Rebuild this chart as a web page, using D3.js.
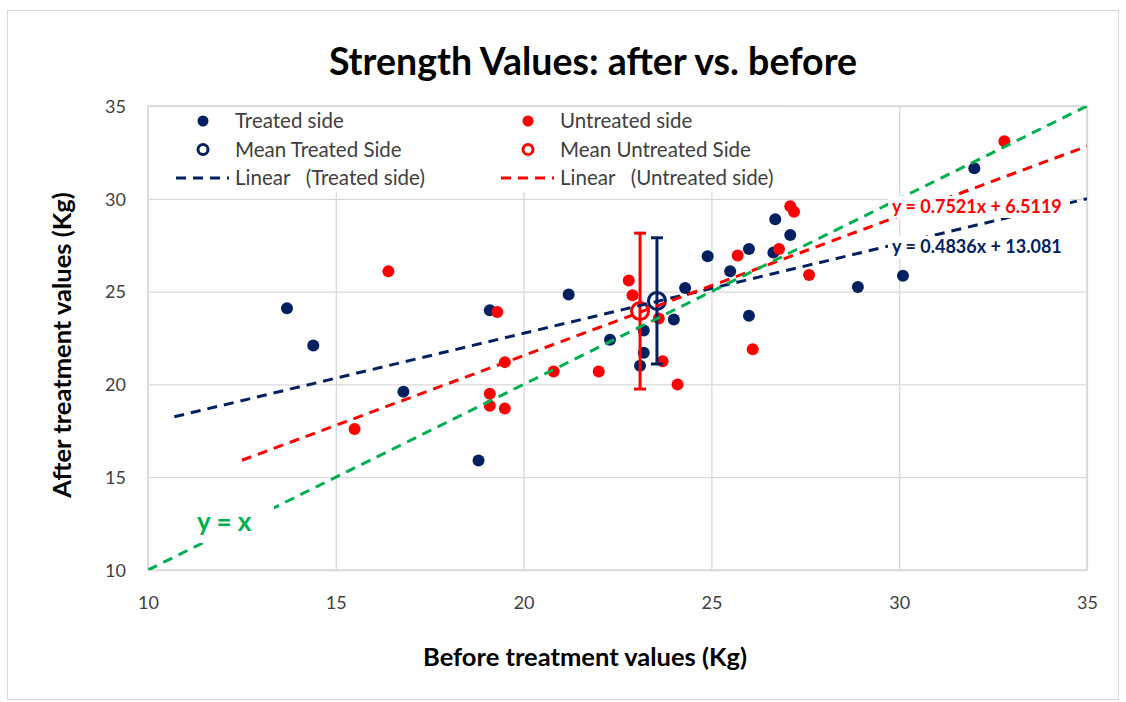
<!DOCTYPE html>
<html>
<head>
<meta charset="utf-8">
<script src="https://cdn.jsdelivr.net/npm/d3@7"></script>
<style>
  body { margin: 0; background: #fff; }
  svg text { font-family: Lato, "Open Sans", sans-serif; }
</style>
</head>
<body>
<svg id="chart" width="1126" height="702"></svg>
<script>
// data
const treatedX = [13.7, 14.4, 16.8, 18.8, 19.1, 21.2, 22.3, 23.1, 23.2, 23.2, 24.0, 24.3, 24.9, 25.5, 26.0, 26.0, 26.65, 26.7, 27.1, 28.9, 30.1, 32.0];
const treatedY = [24.1, 22.1, 19.6, 15.9, 24.0, 24.85, 22.4, 21.0, 21.7, 22.9, 23.5, 25.2, 26.9, 26.1, 27.3, 23.7, 27.1, 28.9, 28.05, 25.25, 25.85, 31.65];
const untreatedX = [15.5, 16.4, 19.1, 19.1, 19.3, 19.5, 19.5, 20.8, 22.0, 22.8, 22.9, 23.6, 23.7, 24.1, 25.7, 26.1, 26.8, 27.1, 27.2, 27.6, 32.8];
const untreatedY = [17.6, 26.1, 19.5, 18.85, 23.9, 21.2, 18.7, 20.7, 20.7, 25.6, 24.8, 23.55, 21.25, 20.0, 26.95, 21.9, 27.3, 29.6, 29.3, 25.9, 33.1];

// means with error (+/-)
const meanTreated = [23.55, 24.5, 3.4];
const meanUntreated = [23.1, 23.95, 4.2];

// trendlines: slope, intercept, x start, x end
const trendTreated = [0.4836, 13.081, 10.7, 35];
const trendUntreated = [0.7521, 6.5119, 12.5, 35];

const xTicks = [10, 15, 20, 25, 30, 35];
const yTicks = [10, 15, 20, 25, 30, 35];

const navy = "#002060", red = "#ff0000", green = "#00b050";

const svg = d3.select("#chart");
const pLeft = 148, pRight = 1087, pTop = 106, pBottom = 570;

const x = d3.scaleLinear().domain([10, 35]).range([pLeft, pRight]);
const y = d3.scaleLinear().domain([10, 35]).range([pBottom, pTop]);

// outer chart border
svg.append("rect")
  .attr("x", 7.5).attr("y", 10.5).attr("width", 1111).attr("height", 689)
  .attr("fill", "#fff").attr("stroke", "#d9d9d9");

// gridlines
svg.append("g")
  .attr("transform", `translate(0,${pBottom})`)
  .call(d3.axisBottom(x).tickValues(xTicks).tickSize(-(pBottom - pTop)).tickFormat(""))
  .call(g => g.select(".domain").remove())
  .call(g => g.selectAll("line").attr("stroke", "#d9d9d9").attr("stroke-width", 1.3));

svg.append("g")
  .attr("transform", `translate(${pLeft},0)`)
  .call(d3.axisLeft(y).tickValues(yTicks).tickSize(-(pRight - pLeft)).tickFormat(""))
  .call(g => g.select(".domain").remove())
  .call(g => g.selectAll("line").attr("stroke", "#d9d9d9").attr("stroke-width", 1.3));

svg.append("rect")
  .attr("x", pLeft).attr("y", pTop).attr("width", pRight - pLeft).attr("height", pBottom - pTop)
  .attr("fill", "none").attr("stroke", "#d9d9d9").attr("stroke-width", 1.5);

// tick labels
svg.append("g")
  .attr("transform", `translate(0,${pBottom})`)
  .call(d3.axisBottom(x).tickValues(xTicks).tickSize(0).tickPadding(26))
  .call(g => g.select(".domain").remove())
  .call(g => g.selectAll("text").attr("font-size", 18).attr("fill", "#404040")
    .style("font-family", "Lato, sans-serif"));

svg.append("g")
  .attr("transform", `translate(${pLeft},0)`)
  .call(d3.axisLeft(y).tickValues(yTicks).tickSize(0).tickPadding(22))
  .call(g => g.select(".domain").remove())
  .call(g => g.selectAll("text").attr("font-size", 18).attr("fill", "#404040")
    .attr("dy", "0.35em").style("font-family", "Lato, sans-serif"));

// legend background hides gridlines
svg.append("rect")
  .attr("x", pLeft + 1).attr("y", pTop + 1).attr("width", 640).attr("height", 85)
  .attr("fill", "#fff");

svg.append("defs").append("clipPath").attr("id", "plot")
  .append("rect").attr("x", pLeft).attr("y", pTop).attr("width", pRight - pLeft).attr("height", pBottom - pTop);

const plot = svg.append("g").attr("clip-path", "url(#plot)");

// points
plot.append("g").selectAll("circle")
  .data(treatedX.map((d, i) => [d, treatedY[i]]))
  .join("circle")
  .attr("cx", d => x(d[0])).attr("cy", d => y(d[1])).attr("r", 6)
  .attr("fill", navy);

plot.append("g").selectAll("circle")
  .data(untreatedX.map((d, i) => [d, untreatedY[i]]))
  .join("circle")
  .attr("cx", d => x(d[0])).attr("cy", d => y(d[1])).attr("r", 6)
  .attr("fill", red);

// mean markers with error bars
function drawMean(m, color) {
  const g = plot.append("g");
  const cx = x(m[0]);
  g.append("line")
    .attr("x1", cx).attr("x2", cx).attr("y1", y(m[1] + m[2])).attr("y2", y(m[1] - m[2]))
    .attr("stroke", color).attr("stroke-width", 3);
  [m[1] + m[2], m[1] - m[2]].forEach(v => {
    g.append("line")
      .attr("x1", cx - 6).attr("x2", cx + 6).attr("y1", y(v)).attr("y2", y(v))
      .attr("stroke", color).attr("stroke-width", 3);
  });
  g.append("circle")
    .attr("cx", cx).attr("cy", y(m[1])).attr("r", 8.5)
    .attr("fill", "none").attr("stroke", color).attr("stroke-width", 3);
}
drawMean(meanUntreated, red);
drawMean(meanTreated, navy);

// trendlines
function drawTrend(t, color) {
  plot.append("line")
    .attr("x1", x(t[2])).attr("y1", y(t[0] * t[2] + t[1]))
    .attr("x2", x(t[3])).attr("y2", y(t[0] * t[3] + t[1]))
    .attr("stroke", color).attr("stroke-width", 3).attr("stroke-dasharray", "10,7");
}
drawTrend(trendTreated, navy);
drawTrend(trendUntreated, red);
drawTrend([1, 0, 10, 35], green);

// y = x label with white box
svg.append("rect").attr("x", 196).attr("y", 503).attr("width", 78).attr("height", 40).attr("fill", "#fff");
svg.append("text").attr("x", 197).attr("y", 531)
  .attr("font-size", 26).attr("font-weight", "bold").attr("fill", green)
  .text("y = x");

// equation labels
svg.append("rect").attr("x", 888).attr("y", 196).attr("width", 182).attr("height", 22).attr("fill", "#fff");
svg.append("text").attr("x", 892).attr("y", 213)
  .attr("font-size", 18).attr("font-weight", "bold").attr("fill", red)
  .text("y = 0.7521x + 6.5119");
svg.append("rect").attr("x", 888).attr("y", 236).attr("width", 182).attr("height", 22).attr("fill", "#fff");
svg.append("text").attr("x", 892).attr("y", 253)
  .attr("font-size", 18).attr("font-weight", "bold").attr("fill", navy)
  .text("y = 0.4836x + 13.081");

// legend
const legendItems = [
  {col: 0, row: 0, type: "dot", color: navy, label: "Treated side"},
  {col: 1, row: 0, type: "dot", color: red, label: "Untreated side"},
  {col: 0, row: 1, type: "ring", color: navy, label: "Mean Treated Side"},
  {col: 1, row: 1, type: "ring", color: red, label: "Mean Untreated Side"},
  {col: 0, row: 2, type: "dash", color: navy, label: "Linear   (Treated side)"},
  {col: 1, row: 2, type: "dash", color: red, label: "Linear   (Untreated side)"}
];
const legend = svg.append("g");
legendItems.forEach(d => {
  const mx = 203 + d.col * 325, my = 121 + d.row * 28.5;
  if (d.type === "dot") {
    legend.append("circle").attr("cx", mx).attr("cy", my).attr("r", 5.5).attr("fill", d.color);
  } else if (d.type === "ring") {
    legend.append("circle").attr("cx", mx).attr("cy", my).attr("r", 5)
      .attr("fill", "none").attr("stroke", d.color).attr("stroke-width", 3);
  } else {
    legend.append("line").attr("x1", mx - 27).attr("x2", mx + 26).attr("y1", my).attr("y2", my)
      .attr("stroke", d.color).attr("stroke-width", 3).attr("stroke-dasharray", "10,7");
  }
  legend.append("text").attr("x", mx + 32).attr("y", my + 7)
    .attr("font-size", 20.5).attr("fill", "#404040")
    .style("white-space", "pre").text(d.label);
});

// titles
svg.append("text").attr("x", 593).attr("y", 75).attr("text-anchor", "middle")
  .attr("font-size", 37.5).attr("font-weight", "bold").attr("fill", "#000")
  .text("Strength Values: after vs. before");

svg.append("text").attr("x", 585).attr("y", 666).attr("text-anchor", "middle")
  .attr("font-size", 25.5).attr("font-weight", "bold").attr("fill", "#000")
  .text("Before treatment values (Kg)");

svg.append("text").attr("transform", "translate(71,345) rotate(-90)").attr("text-anchor", "middle")
  .attr("font-size", 25.5).attr("font-weight", "bold").attr("fill", "#000")
  .text("After treatment values (Kg)");
</script>
</body>
</html>
